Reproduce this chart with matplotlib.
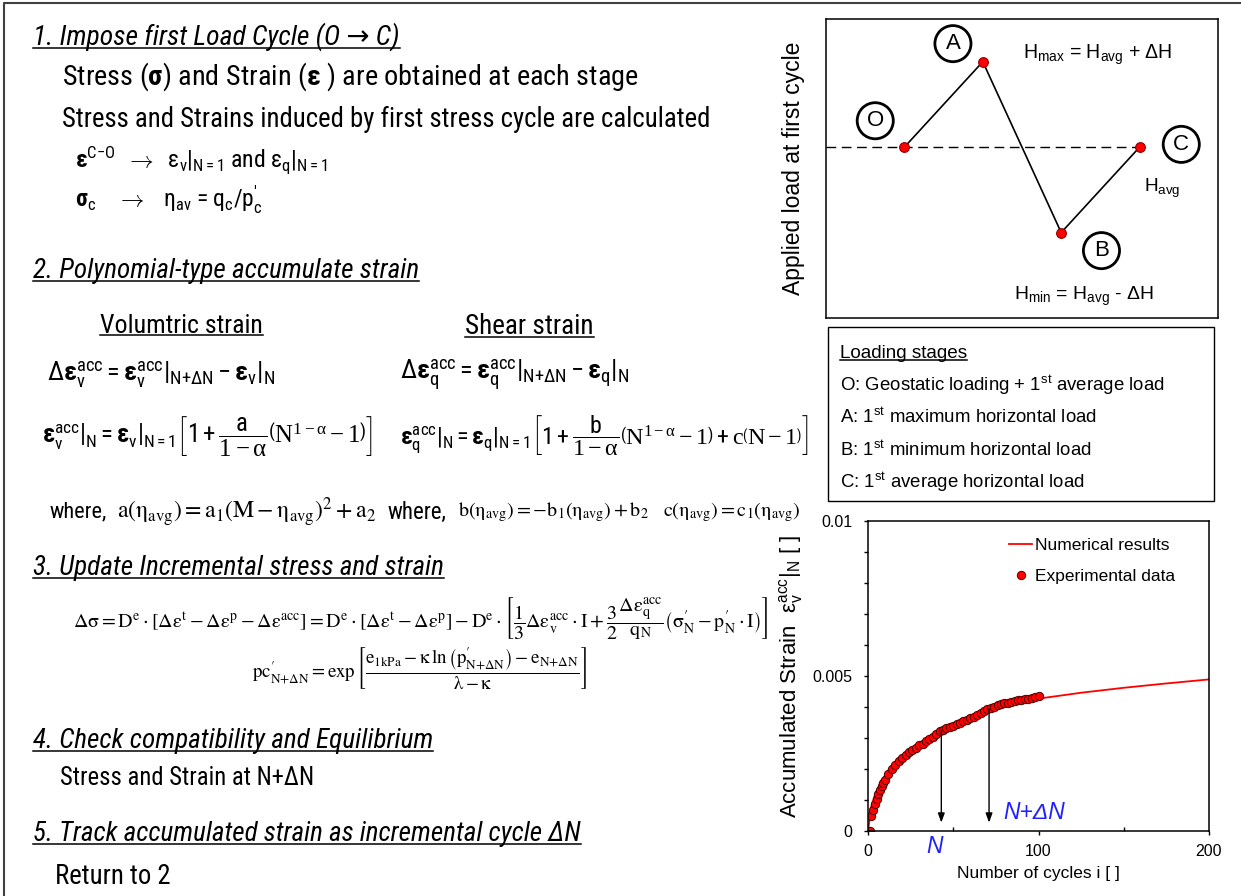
import numpy as np
import matplotlib
matplotlib.use('Agg')
import matplotlib.pyplot as plt
from matplotlib import font_manager
from matplotlib.patches import Rectangle
from matplotlib.ticker import MultipleLocator

# first load cycle O -> A -> B -> C (load relative to H_avg, in units of dH)
stage_names = ['O', 'A', 'B', 'C']
stage_x = [1, 2, 3, 4]
stage_load = [0.0, 1.0, -1.0, 0.0]
# circled label offsets from each point (points)
stage_offsets = [(-21, 19), (-21.5, 13), (29, -13), (30, 2)]

# accumulated volumetric strain vs number of cycles
num_cycles = [0, 1, 2, 3, 4, 6, 8, 10, 13, 17, 24, 32, 40, 50, 60, 70, 80,
              90, 100, 125, 150, 175, 200]
num_strain = [0, 0.0004, 0.0008, 0.00098, 0.00115, 0.0014, 0.0016, 0.0018,
              0.00205, 0.00231, 0.00259, 0.00288, 0.0032, 0.00347, 0.00366,
              0.00387, 0.00402, 0.00415, 0.00427, 0.00446, 0.00462, 0.00476,
              0.00489]

exp_cycles = [0, 1, 2, 3, 4, 5, 6, 7, 8, 9, 10, 12, 14, 16, 18, 20, 22, 24,
              26, 28, 30, 32, 34, 36, 38, 40, 42, 44, 46, 48, 50, 52, 54, 56,
              58, 60, 62, 64, 66, 68, 70, 72, 74, 76, 78, 80, 82, 84, 86, 88,
              90, 92, 94, 96, 98, 100]
exp_strain = [0, 0, 0.0005, 0.00068, 0.00086, 0.00103, 0.0012, 0.00132,
              0.00144, 0.00155, 0.00165, 0.00183, 0.002, 0.00213, 0.00225,
              0.00235, 0.00246, 0.00254, 0.00262, 0.00269, 0.00276, 0.00282,
              0.00289, 0.00296, 0.00304, 0.00313, 0.00321, 0.00327, 0.00332,
              0.00336, 0.0034, 0.00345, 0.00349, 0.00354, 0.00358, 0.00364,
              0.00369, 0.00374, 0.0038, 0.00386, 0.00392, 0.00397, 0.00401,
              0.00405, 0.00409, 0.00412, 0.00414, 0.00417, 0.00419, 0.00421,
              0.00423, 0.00425, 0.00427, 0.00429, 0.00432, 0.00434]

arrow_cycles = [43, 71]
arrow_tip = 0.00027

loading_stages = [
    r'O: Geostatic loading + 1$^{\mathregular{st}}$ average load',
    r'A: 1$^{\mathregular{st}}$ maximum horizontal load',
    r'B: 1$^{\mathregular{st}}$ minimum horizontal load',
    r'C: 1$^{\mathregular{st}}$ average horizontal load',
]

# the slide text is in a condensed sans; use the narrowest one available
installed = {f.name for f in font_manager.fontManager.ttflist}
NARROW = 'DejaVu Sans'
for cand in ['Liberation Sans Narrow', 'Roboto Condensed', 'Arial Narrow', 'Roboto']:
    if cand in installed:
        NARROW = cand
        break
ARIAL = 'Liberation Sans'

plt.rcParams['font.family'] = [NARROW, 'DejaVu Sans']
plt.rcParams['mathtext.fontset'] = 'custom'
plt.rcParams['mathtext.rm'] = NARROW
plt.rcParams['mathtext.it'] = NARROW + ':italic'
plt.rcParams['mathtext.bf'] = NARROW + ':bold'
plt.rcParams['mathtext.sf'] = 'Liberation Serif'
plt.rcParams['mathtext.default'] = 'rm'

fig = plt.figure(figsize=(12.41, 8.96), dpi=100)
ax0 = fig.add_axes([0, 0, 1, 1])
ax0.set_xlim(0, 1241)
ax0.set_ylim(896, 0)
ax0.axis('off')
ax0.set_zorder(5)
renderer = fig.canvas.get_renderer()


def put(x, y, s, width=None, size=None, maxsize=None, underline=False, **kw):
    # text starting at x, centred on y; scaled to span `width` px if given
    t = ax0.text(x, y, s, fontsize=size or 20, ha='left', va='center', **kw)
    if width:
        w = t.get_window_extent(renderer).width
        fs = 20 * width / w
        if maxsize:
            fs = min(fs, maxsize)
        t.set_fontsize(fs)
    if underline:
        bb = t.get_window_extent(renderer)
        yl = 896 - (bb.y0 + 0.11 * bb.height)
        ax0.plot([bb.x0, bb.x1], [yl, yl], color='black', lw=1.1)
    return t


def width_of(t):
    return t.get_window_extent(renderer).width


# outer frame
ax0.plot([4, 4, 1241], [896, 3, 3], color='#404040', lw=1.5)

# ---- left column: procedure ----
head = dict(underline=True, style='italic')
put(33, 37, '1. Impose first Load Cycle (O \u2192 C)', 367, **head)
put(62, 77, r'Stress ($\mathbf{σ}$) and Strain ($\mathbf{ε}$ ) are obtained at each stage', 576)
put(62, 119, 'Stress and Strains induced by first stress cycle are calculated', 647)
put(75, 160, r'$\mathbf{ε}^{C{-}O}$  $\rightarrow$  $ε_{v}|_{N{=}1}$ and $ε_{q}|_{N{=}1}$', 252)
put(75, 200, r'$\mathbf{σ}_{c}$    $\rightarrow$   $η_{av}$ = q$_{c}$/p$^{\prime}_{c}$', 187)

put(33, 271, '2. Polynomial-type accumulate strain', 386, **head)
put(100, 326, 'Volumtric strain', 163, underline=True)
put(465, 326, 'Shear strain', 128, underline=True)
put(47, 375, r'$Δ\mathbf{ε}_{v}^{acc} = \mathbf{ε}_{v}^{acc}|_{N{+}ΔN} - \mathbf{ε}_{v}|_{N}$', 235, maxsize=19)
put(400, 375, r'$Δ\mathbf{ε}_{q}^{acc} = \mathbf{ε}_{q}^{acc}|_{N{+}ΔN} - \mathbf{ε}_{q}|_{N}$', 235, maxsize=19)
put(42, 436, r'$\mathbf{ε}_{v}^{acc}|_{N} = \mathbf{ε}_{v}|_{N{=}1}\left[1+\dfrac{a}{\mathsf{1-α}}\left(\mathsf{N^{1-α}-1}\right)\right]$', 330, maxsize=19)
put(400, 436, r'$\mathbf{ε}_{q}^{acc}|_{N} = \mathbf{ε}_{q}|_{N{=}1}\left[1+\dfrac{b}{\mathsf{1-α}}\left(\mathsf{N^{1-α}-1}\right)+\mathsf{c}\left(\mathsf{N-1}\right)\right]$', 410, maxsize=19)

# "where" row: both right-hand formulas share one size and fit in 458..800
put(50, 512, 'where,', 57)
wa = put(117, 512, r'$a\left(η_{avg}\right) = a_{1}\left(M - η_{avg}\right)^{2} + a_{2}$', 258, math_fontfamily='stix')
put(388, 512, 'where,', 59)
wb = put(458, 512, r'$b\left(η_{avg}\right) = -b_{1}\left(η_{avg}\right) + b_{2}$', math_fontfamily='stix')
wc = put(700, 512, r'$c\left(η_{avg}\right) = c_{1}\left(η_{avg}\right)$', math_fontfamily='stix')
fs = min(20 * (800 - 458 - 14) / (width_of(wb) + width_of(wc)), wa.get_fontsize())
wb.set_fontsize(fs)
wc.set_fontsize(fs)
wc.set_x(458 + width_of(wb) + 14)

put(33, 568, '3. Update Incremental stress and strain', 412, **head)
put(73, 618, r'$Δσ = D^{e}\cdot\left[Δε^{t} - Δε^{p} - Δε^{acc}\right] = D^{e}\cdot\left[Δε^{t} - Δε^{p}\right] - D^{e}\cdot\left[\dfrac{1}{3}Δε_{v}^{acc}\cdot I + \dfrac{3}{2}\dfrac{Δε_{q}^{acc}}{q_{N}}\left(σ_{N}^{\prime} - p_{N}^{\prime}\cdot I\right)\right]$', 694, math_fontfamily='stix')
put(252, 668, r'$pc_{N{+}ΔN}^{\prime} = \exp\left[\dfrac{e_{1kPa} - κ\,\ln\left(p_{N{+}ΔN}^{\prime}\right) - e_{N{+}ΔN}}{λ - κ}\right]$', 335, math_fontfamily='stix')

put(33, 741, '4. Check compatibility and Equilibrium', 400, **head)
put(60, 778, 'Stress and Strain at N+\u0394N', 253)
put(33, 834, '5. Track accumulated strain as incremental cycle \u0394N', 547, **head)
put(55, 876, 'Return to 2', 115)

# ---- top right: load path of the first cycle ----
ax1 = fig.add_axes([826 / 1241, 1 - 318 / 896, 392 / 1241, 299 / 896])
ax1.hlines(stage_load[0], 0, stage_x[-1], colors='black',
           linestyles=(0, (7, 4)), lw=1)
ax1.plot(stage_x, stage_load, color='black', lw=1.2)
ax1.plot(stage_x, stage_load, 'o', ms=7, mfc='red', mec='#8b0000', mew=0.8)
for name, x, y, off in zip(stage_names, stage_x, stage_load, stage_offsets):
    ax1.annotate(name, (x, y), xytext=off, textcoords='offset points',
                 ha='center', va='center', fontsize=16, family=ARIAL,
                 bbox=dict(boxstyle='circle,pad=0.34', fc='white',
                           ec='black', lw=2))
ax1.set_xlim(0, 5)
ax1.set_ylim(-2, 1.5)
ax1.set_xticks([])
ax1.set_yticks([])
for sp in ax1.spines.values():
    sp.set_linewidth(1.1)
ax1.set_ylabel('Applied load at first cycle', fontsize=16.5, family=ARIAL)
ax1.yaxis.set_label_coords(-0.054, 0.5)

put(1023, 55, r'H$_{\mathregular{max}}$ = H$_{\mathregular{avg}}$ + ΔH', 149, family=ARIAL)
put(1144, 188, r'H$_{\mathregular{avg}}$', 36, family=ARIAL)
put(1014, 296, r'H$_{\mathregular{min}}$ = H$_{\mathregular{avg}}$ - ΔH', 139, family=ARIAL)

# loading stages box
ax0.add_patch(Rectangle((828, 327), 386, 174, fill=False, ec='black', lw=1))
put(840, 353, 'Loading stages', 128, underline=True, family=ARIAL)
for i, (s, w) in enumerate(zip(loading_stages, [324, 256, 251, 244])):
    put(840, 385 + 32.4 * i, s, w, family=ARIAL)

# ---- bottom right: accumulated strain ----
ax2 = fig.add_axes([868 / 1241, 1 - 831 / 896, 341 / 1241, 310 / 896])
ax2.plot(num_cycles, num_strain, color='red', lw=1.3, label='Numerical results')
ax2.plot(exp_cycles, exp_strain, 'o', ms=6, mfc='red', mec='#500000', mew=0.7,
         label='Experimental data')

arrow_top = np.interp(arrow_cycles, exp_cycles, exp_strain)
for n, top in zip(arrow_cycles, arrow_top):
    ax2.annotate('', xy=(n, arrow_tip), xytext=(n, top),
                 arrowprops=dict(arrowstyle='-|>,head_length=0.55,head_width=0.2',
                                 color='black', lw=1, shrinkA=0, shrinkB=0))
ax2.annotate('N', (arrow_cycles[0], 0), xytext=(-5, -11.5),
             textcoords='offset points', ha='center', va='center',
             fontsize=16.5, family=ARIAL, style='italic', color='#2020ff',
             annotation_clip=False)
ax2.annotate('N+\u0394N', (arrow_cycles[1], arrow_tip), xytext=(10, 7),
             textcoords='offset points', ha='left', va='center',
             fontsize=16.5, family=ARIAL, style='italic', color='#2020ff')

ax2.set_xlim(0, 200)
ax2.set_ylim(0, 0.01)
ax2.set_xticks([0, 100, 200])
ax2.set_xticks([50, 150], minor=True)
ax2.set_yticks([0, 0.005, 0.01], labels=['0', '0.005', '0.01'])
ax2.yaxis.set_minor_locator(MultipleLocator(0.001))
ax2.tick_params(axis='y', which='both', direction='out', length=3, width=1,
                pad=8, labelsize=11.5)
ax2.tick_params(axis='x', which='major', direction='out', length=3, width=1,
                pad=6, labelsize=11.5)
ax2.tick_params(axis='x', which='minor', direction='in', length=3, width=1)
for lab in ax2.get_xticklabels() + ax2.get_yticklabels():
    lab.set_fontfamily(ARIAL)
for sp in ax2.spines.values():
    sp.set_linewidth(1.1)
ax2.set_xlabel('Number of cycles i [ ]', fontsize=12.5, family=ARIAL)
ax2.xaxis.set_label_coords(0.5, -0.113)
ax2.set_ylabel(r'Accumulated Strain  $\mathregular{ε_{v}^{acc}|_{N}}$ [ ]',
               fontsize=16, family=ARIAL)
ax2.yaxis.set_label_coords(-0.185, 0.5)
ax2.legend(loc='upper left', bbox_to_anchor=(0.4135, 0.945), frameon=False,
           borderaxespad=0, borderpad=0, handlelength=1.35, handletextpad=0.15,
           labelspacing=0.9, prop={'family': ARIAL, 'size': 12.5})

fig.savefig('out.png', dpi=100)
